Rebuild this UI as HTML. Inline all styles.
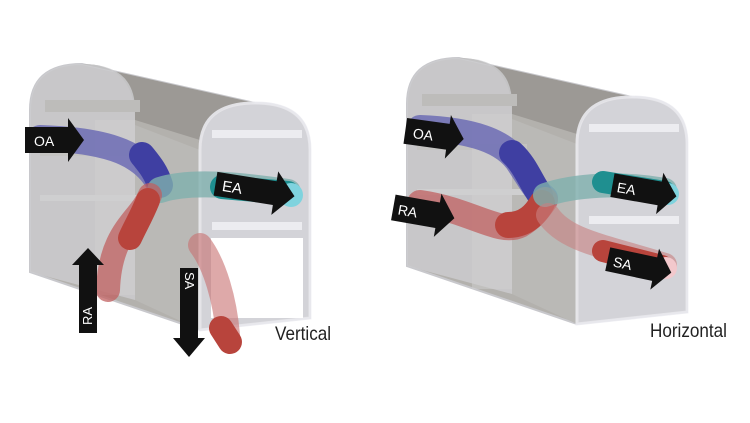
<!DOCTYPE html>
<html><head><meta charset="utf-8"><style>
html,body{margin:0;padding:0;background:#fff;}
svg{display:block}
text{font-family:"Liberation Sans",sans-serif;}
</style></head><body>
<svg width="750" height="423" viewBox="0 0 750 423" xmlns="http://www.w3.org/2000/svg">
<defs>
<symbol id="box" overflow="visible">
  <path d="M30,272 L30,110 Q30,64 82,64 L255,103 Q310,103 310,150 L310,318 L200,330 Z" fill="#b3b1ad" stroke="#c8c8cc" stroke-width="2"/>
  <path d="M82,64 L255,103 Q210,103 200,140 L135,120 Q135,64 82,64 Z" fill="#9c9995"/>
  <path d="M30,272 L30,110 Q30,64 82,64 Q135,64 135,110 L135,300 Z" fill="#cdcdd0" opacity="0.8"/>
  <path d="M135,300 L200,330 L200,150 L135,125 Z" fill="#bab9b6"/>
  <rect x="45" y="100" width="95" height="12" fill="#bdbcba"/>
  <rect x="40" y="150" width="110" height="6" fill="#c4c3c1"/>
  <rect x="40" y="195" width="110" height="6" fill="#cfcfd0"/>
  <rect x="95" y="120" width="40" height="175" fill="#d0d0d0" opacity="0.5"/>
  <path d="M200,330 L200,150 Q200,103 255,103 Q310,103 310,150 L310,318 Z" fill="#d9d9e0" opacity="0.85" stroke="#eeeef3" stroke-width="3"/>
  <rect x="212" y="130" width="90" height="8" fill="#ececf0"/>
  <rect x="212" y="222" width="90" height="8" fill="#ececf0"/>
</symbol>
</defs>
<g stroke-linecap="round">
<!-- LEFT (Vertical) -->
<use href="#box"/>
<rect x="211" y="238" width="92" height="80" fill="#fff"/>
<path d="M40,138 C100,140 140,150 158,182" stroke="#6c6cb4" stroke-width="26" fill="none" opacity="0.85"/>
<path d="M142,155 C150,165 156,172 160,185" stroke="#3f3fa2" stroke-width="26" fill="none"/>
<path d="M160,190 C190,180 240,185 288,192" stroke="#7fb0ae" stroke-width="26" fill="none" opacity="0.8"/>
<path d="M222,187 L288,193" stroke="#1f8f90" stroke-width="24" fill="none"/>
<circle cx="291" cy="195" r="12" fill="#7fd3de"/>
<path d="M150,195 C140,220 110,230 108,290" stroke="#c06060" stroke-width="24" fill="none" opacity="0.75"/>
<path d="M148,200 C142,215 136,225 130,238" stroke="#b8443c" stroke-width="24" fill="none"/>
<path d="M200,245 C215,265 225,300 228,335" stroke="#c87070" stroke-width="24" fill="none" opacity="0.6"/>
<path d="M221,328 L230,342" stroke="#b8443c" stroke-width="24" fill="none"/>
<!-- arrows -->
<polygon points="25,127 68,127 68,118 84,140 68,162 68,153 25,153" fill="#111"/>
<text x="34" y="146" fill="#fff" font-size="14">OA</text>
<g transform="rotate(9 255 190)">
<polygon points="215,178 275,178 275,168 295,190 275,212 275,202 215,202" fill="#111"/>
<text x="222" y="196" fill="#fff" font-size="15">EA</text></g>
<polygon points="79,333 79,265 72,265 88,248 104,265 97,265 97,333" fill="#111"/>
<text transform="translate(92,325) rotate(-90)" fill="#fff" font-size="13">RA</text>
<polygon points="180,268 198,268 198,338 205,338 189,357 173,338 180,338" fill="#111"/>
<text transform="translate(185,272) rotate(90)" fill="#fff" font-size="13">SA</text>
<text x="275" y="340" font-size="19" fill="#222" transform="translate(275 0) scale(0.9 1) translate(-275 0)">Vertical</text>

<!-- RIGHT (Horizontal) -->
<use href="#box" transform="translate(377,-6)"/>
<path d="M420,128 C470,130 505,140 520,165 C530,180 535,190 545,198" stroke="#6c6cb4" stroke-width="26" fill="none" opacity="0.85"/>
<path d="M512,153 C525,165 530,180 540,195" stroke="#3f3fa2" stroke-width="26" fill="none"/>
<path d="M420,203 C470,210 500,235 520,225 C532,218 538,210 545,200" stroke="#c06060" stroke-width="26" fill="none" opacity="0.75"/>
<path d="M508,225 C525,225 535,215 542,203" stroke="#b8443c" stroke-width="26" fill="none"/>
<path d="M545,195 C575,185 620,182 665,190" stroke="#7fb0ae" stroke-width="24" fill="none" opacity="0.8"/>
<path d="M603,182 L665,192" stroke="#1f8f90" stroke-width="22" fill="none"/>
<circle cx="668" cy="194" r="11" fill="#7fd3de"/>
<path d="M548,215 C565,240 600,245 665,265" stroke="#c88080" stroke-width="24" fill="none" opacity="0.6"/>
<path d="M603,251 L662,266" stroke="#b8443c" stroke-width="22" fill="none"/>
<circle cx="666" cy="268" r="11" fill="#f2c8cc"/>
<g transform="rotate(8 435 135)">
<polygon points="405,122 448,122 448,113 464,135 448,157 448,148 405,148" fill="#111"/>
<text x="413" y="141" fill="#fff" font-size="14">OA</text></g>
<g transform="rotate(10 425 212)">
<polygon points="393,200 438,200 438,191 455,213 438,235 438,226 393,226" fill="#111"/>
<text x="398" y="219" fill="#fff" font-size="14">RA</text></g>
<g transform="rotate(10 640 190)">
<polygon points="612,178 660,178 660,169 677,190 660,211 660,202 612,202" fill="#111"/>
<text x="617" y="196" fill="#fff" font-size="14">EA</text></g>
<g transform="rotate(12 640 266)">
<polygon points="607,254 655,254 655,245 672,266 655,287 655,278 607,278" fill="#111"/>
<text x="613" y="272" fill="#fff" font-size="14">SA</text></g>
<text x="650" y="337" font-size="19" fill="#222" transform="translate(650 0) scale(0.9 1) translate(-650 0)">Horizontal</text>
</g>
</svg>
</body></html>
